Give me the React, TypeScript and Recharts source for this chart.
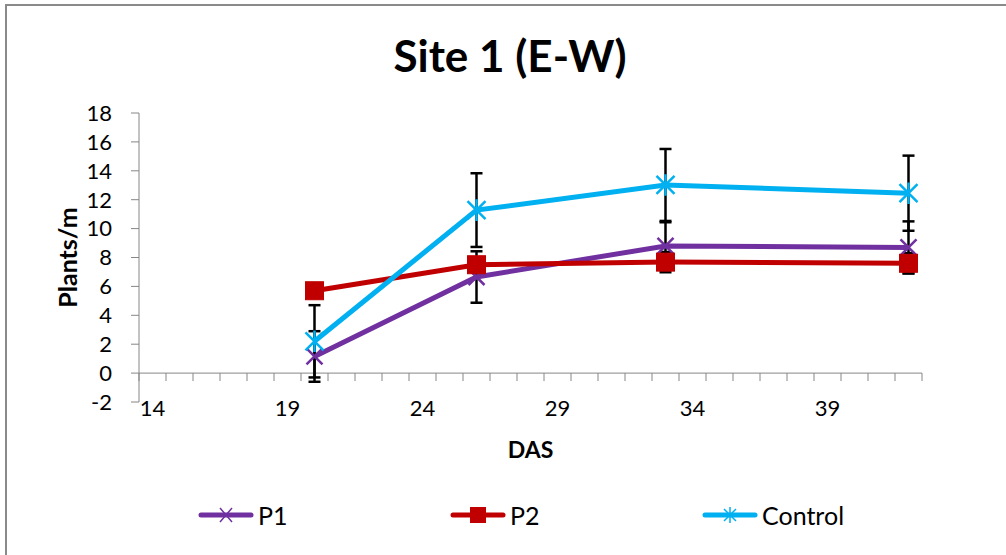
import React from 'react';
import { LineChart, Line, XAxis, YAxis, ErrorBar, ReferenceLine, Legend, Label } from 'recharts';

// ---- data ----
const das = [20, 26, 33, 42];
const p1 = [1.15, 6.65, 8.8, 8.7];
const p1Err = [1.75, 1.78, 1.64, 1.8];
const p2 = [5.7, 7.5, 7.68, 7.6];
const p2Err = [0.4, 0.4, 0.7, 0.7];
const control = [2.2, 11.28, 13.02, 12.45];
const controlErr = [2.5, 2.55, 2.49, 2.6];
const xTickLabels = [14, 19, 24, 29, 34, 39];
const yTicks = [-2, 0, 2, 4, 6, 8, 10, 12, 14, 16, 18];
const categories = Array.from({ length: 29 }, (_, i) => 14 + i); // 14..42 (category axis)
const seriesNames = ['P1', 'P2', 'Control'];

const PURPLE = '#7030A0';
const RED = '#C00000';
const CYAN = '#00B0F0';
const AXIS = '#868686';
const FONT = 'Lato, "Open Sans", sans-serif';

const tableData = das.map((d, i) => ({
  das: d,
  p1: p1[i],
  p1Err: p1Err[i],
  p2: p2[i],
  p2Err: p2Err[i],
  control: control[i],
  controlErr: controlErr[i],
}));

const boundaries = [...categories.map((c) => c - 0.5), categories[categories.length - 1] + 0.5];

const XMark = (props: any) => {
  const { cx, cy } = props;
  if (cx == null || cy == null) return null;
  const s = 8;
  return (
    <path
      d={`M${cx - s},${cy - s}L${cx + s},${cy + s}M${cx - s},${cy + s}L${cx + s},${cy - s}`}
      stroke={PURPLE}
      strokeWidth={2.5}
      fill="none"
    />
  );
};

const SquareMark = (props: any) => {
  const { cx, cy } = props;
  if (cx == null || cy == null) return null;
  const s = 9;
  return <rect x={cx - s} y={cy - s} width={2 * s} height={2 * s} fill={RED} stroke={RED} />;
};

const StarMark = (props: any) => {
  const { cx, cy } = props;
  if (cx == null || cy == null) return null;
  const s = 9;
  return (
    <path
      d={`M${cx - s},${cy - s}L${cx + s},${cy + s}M${cx - s},${cy + s}L${cx + s},${cy - s}M${cx},${cy - s * 1.2}L${cx},${cy + s * 1.2}`}
      stroke={CYAN}
      strokeWidth={2.5}
      fill="none"
    />
  );
};

const XTick = (props: any) => {
  const { x, y, payload } = props;
  return (
    <text x={x} y={y + 14} textAnchor="middle" fontFamily={FONT} fontSize={22} fill="#000">
      {payload.value}
    </text>
  );
};

const legendColors = [PURPLE, RED, CYAN];

const LegendIcon = ({ i }: { i: number }) => {
  const c = legendColors[i];
  const cx = 28;
  const cy = 15;
  return (
    <svg width={56} height={30} style={{ display: 'block' }}>
      <line x1={3} y1={cy} x2={53} y2={cy} stroke={c} strokeWidth={5} strokeLinecap="round" />
      {i === 0 && (
        <path d={`M${cx - 6},${cy - 7}L${cx + 6},${cy + 7}M${cx - 6},${cy + 7}L${cx + 6},${cy - 7}`} stroke={c} strokeWidth={1.5} />
      )}
      {i === 1 && <rect x={cx - 8} y={cy - 8} width={16} height={16} fill={c} />}
      {i === 2 && (
        <path
          d={`M${cx - 6},${cy - 6}L${cx + 6},${cy + 6}M${cx - 6},${cy + 6}L${cx + 6},${cy - 6}M${cx},${cy - 8}L${cx},${cy + 8}`}
          stroke={c}
          strokeWidth={1.5}
        />
      )}
    </svg>
  );
};

const LegendContent = () => (
  <div style={{ position: 'relative', width: 1006, height: 30, fontFamily: FONT, fontSize: 25, color: '#000' }}>
    {seriesNames.map((n, i) => (
      <div
        key={n}
        style={{ position: 'absolute', left: 198 + i * 252, top: 0, height: 30, display: 'flex', alignItems: 'center' }}
      >
        <LegendIcon i={i} />
        <span style={{ marginLeft: 4, lineHeight: '30px' }}>{n}</span>
      </div>
    ))}
  </div>
);

export default function App() {
  return (
    <div style={{ position: 'relative', width: 1006, height: 555, overflow: 'hidden', background: '#fff' }}>
      <style>{`body{margin:0;}`}</style>
      <div
        style={{
          position: 'absolute',
          left: 5,
          top: 4,
          width: 1020,
          height: 570,
          border: '2px solid #8a8a8a',
          boxSizing: 'border-box',
        }}
      />
      <div
        style={{
          position: 'absolute',
          top: 33,
          left: 0,
          width: 1020,
          textAlign: 'center',
          fontFamily: FONT,
          fontWeight: 700,
          fontSize: 44,
          lineHeight: '44px',
          color: '#000',
        }}
      >
        Site 1 (E-W)
      </div>
      <LineChart
        width={1006}
        height={555}
        data={tableData}
        margin={{ top: 113, right: 84, left: 59, bottom: 93 }}
        style={{ position: 'absolute', left: 0, top: 0 }}
      >
        <XAxis
          dataKey="das"
          type="number"
          domain={[13.5, 42.5]}
          allowDataOverflow
          ticks={xTickLabels}
          interval={0}
          axisLine={false}
          tickLine={false}
          tickSize={0}
          tickMargin={0}
          height={30}
          tick={<XTick />}
        >
          <Label
            content={(p: any) => {
              const vb = p.viewBox || {};
              return (
                <text
                  x={vb.x + vb.width / 2}
                  y={vb.y + 56}
                  textAnchor="middle"
                  fontFamily={FONT}
                  fontWeight={700}
                  fontSize={23}
                  fill="#000"
                >
                  DAS
                </text>
              );
            }}
          />
        </XAxis>
        <YAxis
          type="number"
          domain={[-2, 18]}
          allowDataOverflow
          ticks={yTicks}
          interval={0}
          width={80}
          axisLine={{ stroke: AXIS, strokeWidth: 1 }}
          tickLine={{ stroke: AXIS, strokeWidth: 1 }}
          tickSize={8}
          tickMargin={19}
          tick={{ fontFamily: FONT, fontSize: 22, fill: '#000' }}
        >
          <Label
            content={(p: any) => {
              const vb = p.viewBox || {};
              const x = vb.x + 18;
              const y = vb.y + vb.height / 2;
              return (
                <text
                  x={x}
                  y={y}
                  transform={`rotate(-90 ${x} ${y})`}
                  textAnchor="middle"
                  fontFamily={FONT}
                  fontWeight={700}
                  fontSize={25}
                  fill="#000"
                >
                  Plants/m
                </text>
              );
            }}
          />
        </YAxis>
        <ReferenceLine y={0} stroke={AXIS} strokeWidth={1} />
        {boundaries.map((b) => (
          <ReferenceLine
            key={b}
            segment={[
              { x: b, y: 0 },
              { x: b, y: -0.55 },
            ]}
            stroke={AXIS}
            strokeWidth={1}
          />
        ))}
        <Line
          dataKey="p1"
          type="linear"
          stroke={PURPLE}
          strokeWidth={5}
          dot={<XMark />}
          activeDot={false}
          isAnimationActive={false}
          legendType="none"
        >
          <ErrorBar dataKey="p1Err" direction="y" width={6} stroke="#000" strokeWidth={2.5} />
        </Line>
        <Line
          dataKey="p2"
          type="linear"
          stroke={RED}
          strokeWidth={5}
          dot={<SquareMark />}
          activeDot={false}
          isAnimationActive={false}
          legendType="none"
        >
          <ErrorBar dataKey="p2Err" direction="y" width={6} stroke="#000" strokeWidth={2.5} />
        </Line>
        <Line
          dataKey="control"
          type="linear"
          stroke={CYAN}
          strokeWidth={5}
          dot={<StarMark />}
          activeDot={false}
          isAnimationActive={false}
          legendType="none"
        >
          <ErrorBar dataKey="controlErr" direction="y" width={6} stroke="#000" strokeWidth={2.5} />
        </Line>
        <Legend
          verticalAlign="bottom"
          content={<LegendContent />}
          wrapperStyle={{ left: 0, top: 500, bottom: 'auto', width: 1006, height: 30 }}
        />
      </LineChart>
    </div>
  );
}
